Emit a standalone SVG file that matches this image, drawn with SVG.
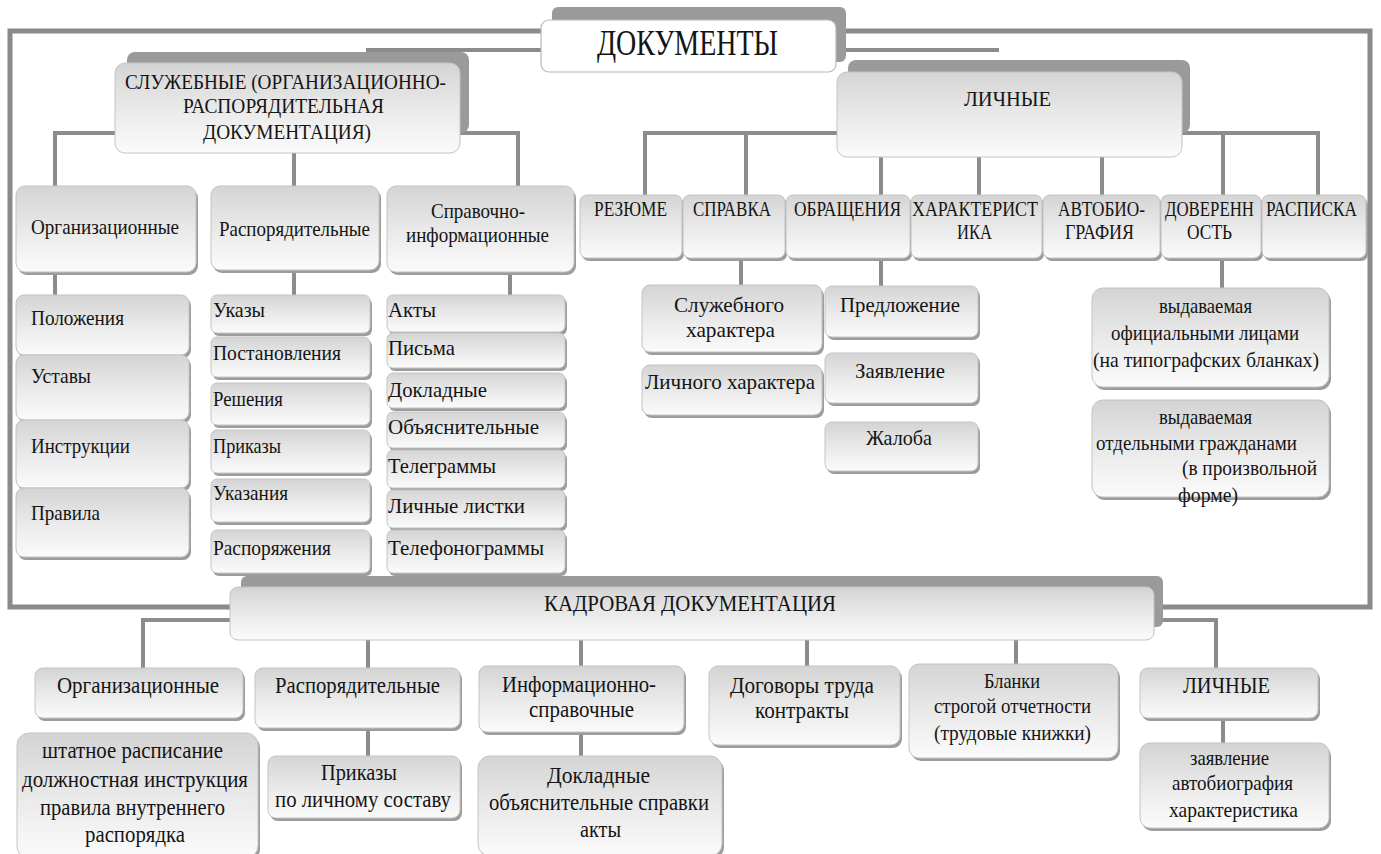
<svg xmlns="http://www.w3.org/2000/svg" width="1381" height="854" viewBox="0 0 1381 854">
<defs>
<linearGradient id="g" x1="0" y1="0" x2="0" y2="1">
<stop offset="0" stop-color="#d4d4d4"/>
<stop offset="0.5" stop-color="#e9e9e9"/>
<stop offset="1" stop-color="#fbfbfb"/>
</linearGradient>
</defs>
<style>
.bx{fill:url(#g);stroke:#c4c4c4;stroke-width:1}
.sh{fill:#9c9c9c}
.tab{fill:#9a9a9a}
.wb{fill:#ffffff;stroke:#b8b8b8;stroke-width:1.2}
.c{fill:none;stroke:#8c8c8c;stroke-width:4}
.f{fill:none;stroke:#8a8a8a;stroke-width:5}
text{font-family:"Liberation Serif","DejaVu Serif",serif;fill:#141414}
.s19{font-size:21px}
.s20{font-size:21px}
.s21{font-size:23px}
.s22{font-size:24px}
.s33{font-size:35px}
</style>
<rect width="1381" height="854" fill="#ffffff"/>

<g id="connectors">
<path class="f" d="M230,607 H10 V31 H1370 V607 H1163"/>
<path class="c" d="M541,50 H366 M836,50 H999"/>
<path class="c" d="M115,133 H55 V186 M460,133 H518 V186 M294,153 V186"/>
<path class="c" d="M55,272 V295 M294,270 V295 M510,272 V295"/>
<path class="c" d="M837,133 H645 V195 M746,133 V195 M1182,133 H1318 V195 M1223,133 V195 M881,157 V195 M979,157 V195 M1102,157 V195"/>
<path class="c" d="M741,258 V285 M881,258 V286 M1222,258 V288"/>
<path class="c" d="M230,620 H143 V668 M1154,620 H1216 V668 M368,640 V668 M581,640 V666 M807,640 V666 M1016,640 V664"/>
<path class="c" d="M368,728 V756 M581,732 V756 M1223,718 V743"/>
</g>

<g id="h-doc">
<rect class="tab" x="552" y="7" width="294" height="55" rx="6"/>
<rect class="wb" x="541" y="20" width="295" height="52" rx="8"/>
<text class="s33" x="597" y="55" textLength="181" lengthAdjust="spacingAndGlyphs">ДОКУМЕНТЫ</text>
</g>

<g id="h-sluzh">
<rect class="tab" x="127" y="52" width="342" height="81" rx="8"/>
<rect class="bx" x="115" y="63" width="345" height="90" rx="10"/>
<text class="s20" x="125" y="89" textLength="321" lengthAdjust="spacingAndGlyphs">СЛУЖЕБНЫЕ (ОРГАНИЗАЦИОННО-</text>
<text class="s20" x="183" y="113" textLength="201" lengthAdjust="spacingAndGlyphs">РАСПОРЯДИТЕЛЬНАЯ</text>
<text class="s20" x="203" y="139" textLength="168" lengthAdjust="spacingAndGlyphs">ДОКУМЕНТАЦИЯ)</text>
</g>

<g id="h-lich">
<rect class="tab" x="848" y="60" width="342" height="73" rx="8"/>
<rect class="bx" x="837" y="72" width="345" height="85" rx="10"/>
<text class="s20" x="964" y="106" textLength="87" lengthAdjust="spacingAndGlyphs">ЛИЧНЫЕ</text>
</g>

<g id="h-kadr">
<rect class="tab" x="241" y="576" width="922" height="51" rx="6"/>
<rect class="bx" x="230" y="587" width="924" height="53" rx="8"/>
<text class="s22" x="544" y="611" textLength="292" lengthAdjust="spacingAndGlyphs">КАДРОВАЯ ДОКУМЕНТАЦИЯ</text>
</g>

<!-- left branch -->
<g id="b-org"><rect class="sh" x="18" y="189" width="180" height="86" rx="9"/><rect class="bx" x="16" y="186" width="180" height="86" rx="9"/>
<text class="s19" x="31" y="234" textLength="148" lengthAdjust="spacingAndGlyphs">Организационные</text></g>
<g id="b-rasp"><rect class="sh" x="213" y="189" width="168" height="84" rx="9"/><rect class="bx" x="211" y="186" width="168" height="84" rx="9"/>
<text class="s19" x="219" y="236" textLength="151" lengthAdjust="spacingAndGlyphs">Распорядительные</text></g>
<g id="b-sprav"><rect class="sh" x="389" y="189" width="187" height="86" rx="9"/><rect class="bx" x="387" y="186" width="187" height="86" rx="9"/>
<text class="s19" x="431" y="218" textLength="94" lengthAdjust="spacingAndGlyphs">Справочно-</text>
<text class="s19" x="406" y="242" textLength="143" lengthAdjust="spacingAndGlyphs">информационные</text></g>

<g id="i-pol"><rect class="sh" x="18" y="298" width="173" height="60" rx="8"/><rect class="bx" x="16" y="295" width="173" height="60" rx="8"/>
<text class="s19" x="31" y="325" textLength="93" lengthAdjust="spacingAndGlyphs">Положения</text></g>
<g id="i-ust"><rect class="sh" x="18" y="358" width="173" height="65" rx="8"/><rect class="bx" x="16" y="355" width="173" height="65" rx="8"/>
<text class="s19" x="31" y="383" textLength="60" lengthAdjust="spacingAndGlyphs">Уставы</text></g>
<g id="i-instr"><rect class="sh" x="18" y="423" width="173" height="68" rx="8"/><rect class="bx" x="16" y="420" width="173" height="68" rx="8"/>
<text class="s19" x="31" y="453" textLength="99" lengthAdjust="spacingAndGlyphs">Инструкции</text></g>
<g id="i-prav"><rect class="sh" x="18" y="491" width="173" height="69" rx="8"/><rect class="bx" x="16" y="488" width="173" height="69" rx="8"/>
<text class="s19" x="31" y="520" textLength="69" lengthAdjust="spacingAndGlyphs">Правила</text></g>

<g id="r-ukazy"><rect class="sh" x="213" y="298" width="159" height="38" rx="6"/><rect class="bx" x="211" y="295" width="159" height="38" rx="6"/>
<text class="s19" x="213" y="317" textLength="52" lengthAdjust="spacingAndGlyphs">Указы</text></g>
<g id="r-post"><rect class="sh" x="213" y="340" width="159" height="40" rx="6"/><rect class="bx" x="211" y="337" width="159" height="40" rx="6"/>
<text class="s19" x="213" y="360" textLength="128" lengthAdjust="spacingAndGlyphs">Постановления</text></g>
<g id="r-resh"><rect class="sh" x="213" y="386" width="159" height="42" rx="6"/><rect class="bx" x="211" y="383" width="159" height="42" rx="6"/>
<text class="s19" x="213" y="406" textLength="70" lengthAdjust="spacingAndGlyphs">Решения</text></g>
<g id="r-prik"><rect class="sh" x="213" y="433" width="159" height="43" rx="6"/><rect class="bx" x="211" y="430" width="159" height="43" rx="6"/>
<text class="s19" x="213" y="453" textLength="68" lengthAdjust="spacingAndGlyphs">Приказы</text></g>
<g id="r-ukaz"><rect class="sh" x="213" y="482" width="159" height="43" rx="6"/><rect class="bx" x="211" y="479" width="159" height="43" rx="6"/>
<text class="s19" x="213" y="500" textLength="75" lengthAdjust="spacingAndGlyphs">Указания</text></g>
<g id="r-rasp"><rect class="sh" x="213" y="533" width="159" height="43" rx="6"/><rect class="bx" x="211" y="530" width="159" height="43" rx="6"/>
<text class="s19" x="213" y="555" textLength="118" lengthAdjust="spacingAndGlyphs">Распоряжения</text></g>

<g id="s-akty"><rect class="sh" x="389" y="298" width="178" height="37" rx="6"/><rect class="bx" x="387" y="295" width="178" height="37" rx="6"/>
<text class="s19" x="388" y="317" textLength="48" lengthAdjust="spacingAndGlyphs">Акты</text></g>
<g id="s-pisma"><rect class="sh" x="389" y="336" width="178" height="35" rx="6"/><rect class="bx" x="387" y="333" width="178" height="35" rx="6"/>
<text class="s19" x="388" y="355" textLength="67" lengthAdjust="spacingAndGlyphs">Письма</text></g>
<g id="s-dokl"><rect class="sh" x="389" y="376" width="178" height="35" rx="6"/><rect class="bx" x="387" y="373" width="178" height="35" rx="6"/>
<text class="s19" x="388" y="397" textLength="99" lengthAdjust="spacingAndGlyphs">Докладные</text></g>
<g id="s-obyas"><rect class="sh" x="389" y="415" width="178" height="36" rx="6"/><rect class="bx" x="387" y="412" width="178" height="36" rx="6"/>
<text class="s19" x="388" y="434" textLength="151" lengthAdjust="spacingAndGlyphs">Объяснительные</text></g>
<g id="s-teleg"><rect class="sh" x="389" y="453" width="178" height="38" rx="6"/><rect class="bx" x="387" y="450" width="178" height="38" rx="6"/>
<text class="s19" x="388" y="473" textLength="108" lengthAdjust="spacingAndGlyphs">Телеграммы</text></g>
<g id="s-lich"><rect class="sh" x="389" y="493" width="178" height="38" rx="6"/><rect class="bx" x="387" y="490" width="178" height="38" rx="6"/>
<text class="s19" x="388" y="513" textLength="137" lengthAdjust="spacingAndGlyphs">Личные листки</text></g>
<g id="s-telef"><rect class="sh" x="389" y="533" width="178" height="43" rx="6"/><rect class="bx" x="387" y="530" width="178" height="43" rx="6"/>
<text class="s19" x="388" y="555" textLength="156" lengthAdjust="spacingAndGlyphs">Телефонограммы</text></g>

<!-- right branch -->
<g id="p-rez"><rect class="sh" x="582" y="198" width="102" height="63" rx="7"/><rect class="bx" x="580" y="195" width="102" height="63" rx="7"/>
<text class="s20" x="594" y="216" textLength="73" lengthAdjust="spacingAndGlyphs">РЕЗЮМЕ</text></g>
<g id="p-sprav"><rect class="sh" x="685" y="198" width="102" height="63" rx="7"/><rect class="bx" x="683" y="195" width="102" height="63" rx="7"/>
<text class="s20" x="693" y="216" textLength="78" lengthAdjust="spacingAndGlyphs">СПРАВКА</text></g>
<g id="p-obr"><rect class="sh" x="788" y="198" width="124" height="63" rx="7"/><rect class="bx" x="786" y="195" width="124" height="63" rx="7"/>
<text class="s20" x="794" y="216" textLength="107" lengthAdjust="spacingAndGlyphs">ОБРАЩЕНИЯ</text></g>
<g id="p-har"><rect class="sh" x="913" y="198" width="131" height="63" rx="7"/><rect class="bx" x="911" y="195" width="131" height="63" rx="7"/>
<text class="s20" x="912" y="216" textLength="126" lengthAdjust="spacingAndGlyphs">ХАРАКТЕРИСТ</text>
<text class="s20" x="957" y="239" textLength="35" lengthAdjust="spacingAndGlyphs">ИКА</text></g>
<g id="p-avt"><rect class="sh" x="1045" y="198" width="117" height="63" rx="7"/><rect class="bx" x="1043" y="195" width="117" height="63" rx="7"/>
<text class="s20" x="1058" y="216" textLength="87" lengthAdjust="spacingAndGlyphs">АВТОБИО-</text>
<text class="s20" x="1065" y="239" textLength="69" lengthAdjust="spacingAndGlyphs">ГРАФИЯ</text></g>
<g id="p-dov"><rect class="sh" x="1163" y="198" width="100" height="63" rx="7"/><rect class="bx" x="1161" y="195" width="100" height="63" rx="7"/>
<text class="s20" x="1165" y="216" textLength="89" lengthAdjust="spacingAndGlyphs">ДОВЕРЕНН</text>
<text class="s20" x="1187" y="239" textLength="45" lengthAdjust="spacingAndGlyphs">ОСТЬ</text></g>
<g id="p-rasp"><rect class="sh" x="1264" y="198" width="104" height="63" rx="7"/><rect class="bx" x="1262" y="195" width="104" height="63" rx="7"/>
<text class="s20" x="1266" y="216" textLength="91" lengthAdjust="spacingAndGlyphs">РАСПИСКА</text></g>

<g id="sp-sluzh"><rect class="sh" x="644" y="288" width="180" height="67" rx="8"/><rect class="bx" x="642" y="285" width="180" height="67" rx="8"/>
<text class="s19" x="674" y="312" textLength="110" lengthAdjust="spacingAndGlyphs">Служебного</text>
<text class="s19" x="686" y="337" textLength="89" lengthAdjust="spacingAndGlyphs">характера</text></g>
<g id="sp-lich"><rect class="sh" x="644" y="368" width="180" height="50" rx="8"/><rect class="bx" x="642" y="365" width="180" height="50" rx="8"/>
<text class="s19" x="645" y="389" textLength="170" lengthAdjust="spacingAndGlyphs">Личного характера</text></g>
<g id="ob-pred"><rect class="sh" x="827" y="289" width="153" height="51" rx="7"/><rect class="bx" x="825" y="286" width="153" height="51" rx="7"/>
<text class="s19" x="840" y="312" textLength="120" lengthAdjust="spacingAndGlyphs">Предложение</text></g>
<g id="ob-zayav"><rect class="sh" x="827" y="356" width="153" height="50" rx="7"/><rect class="bx" x="825" y="353" width="153" height="50" rx="7"/>
<text class="s19" x="855" y="378" textLength="90" lengthAdjust="spacingAndGlyphs">Заявление</text></g>
<g id="ob-zhal"><rect class="sh" x="827" y="425" width="153" height="49" rx="7"/><rect class="bx" x="825" y="422" width="153" height="49" rx="7"/>
<text class="s19" x="866" y="445" textLength="66" lengthAdjust="spacingAndGlyphs">Жалоба</text></g>
<g id="dv-of"><rect class="sh" x="1094" y="291" width="237" height="99" rx="11"/><rect class="bx" x="1092" y="288" width="237" height="99" rx="11"/>
<text class="s19" x="1159" y="313" textLength="93" lengthAdjust="spacingAndGlyphs">выдаваемая</text>
<text class="s19" x="1111" y="340" textLength="188" lengthAdjust="spacingAndGlyphs">официальными лицами</text>
<text class="s19" x="1093" y="367" textLength="226" lengthAdjust="spacingAndGlyphs">(на типографских бланках)</text></g>
<g id="dv-ot"><rect class="sh" x="1094" y="403" width="237" height="97" rx="11"/><rect class="bx" x="1092" y="400" width="237" height="97" rx="11"/>
<text class="s19" x="1159" y="424" textLength="93" lengthAdjust="spacingAndGlyphs">выдаваемая</text>
<text class="s19" x="1096" y="450" textLength="201" lengthAdjust="spacingAndGlyphs">отдельными гражданами</text>
<text class="s19" x="1182" y="475" textLength="135" lengthAdjust="spacingAndGlyphs">(в произвольной</text>
<text class="s19" x="1178" y="502" textLength="60" lengthAdjust="spacingAndGlyphs">форме)</text></g>

<!-- bottom branch -->
<g id="k-org"><rect class="sh" x="37" y="671" width="208" height="50" rx="8"/><rect class="bx" x="35" y="668" width="208" height="50" rx="8"/>
<text class="s21" x="57" y="693" textLength="162" lengthAdjust="spacingAndGlyphs">Организационные</text></g>
<g id="k-rasp"><rect class="sh" x="257" y="671" width="205" height="60" rx="8"/><rect class="bx" x="255" y="668" width="205" height="60" rx="8"/>
<text class="s21" x="275" y="693" textLength="165" lengthAdjust="spacingAndGlyphs">Распорядительные</text></g>
<g id="k-info"><rect class="sh" x="481" y="669" width="205" height="66" rx="8"/><rect class="bx" x="479" y="666" width="205" height="66" rx="8"/>
<text class="s21" x="502" y="692" textLength="154" lengthAdjust="spacingAndGlyphs">Информационно-</text>
<text class="s21" x="529" y="717" textLength="105" lengthAdjust="spacingAndGlyphs">справочные</text></g>
<g id="k-dog"><rect class="sh" x="711" y="669" width="191" height="79" rx="9"/><rect class="bx" x="709" y="666" width="191" height="79" rx="9"/>
<text class="s21" x="730" y="693" textLength="144" lengthAdjust="spacingAndGlyphs">Договоры труда</text>
<text class="s21" x="755" y="718" textLength="94" lengthAdjust="spacingAndGlyphs">контракты</text></g>
<g id="k-blank"><rect class="sh" x="911" y="667" width="209" height="94" rx="10"/><rect class="bx" x="909" y="664" width="209" height="94" rx="10"/>
<text class="s19" x="984" y="688" textLength="56" lengthAdjust="spacingAndGlyphs">Бланки</text>
<text class="s19" x="934" y="713" textLength="157" lengthAdjust="spacingAndGlyphs">строгой отчетности</text>
<text class="s19" x="934" y="740" textLength="157" lengthAdjust="spacingAndGlyphs">(трудовые книжки)</text></g>
<g id="k-lich"><rect class="sh" x="1142" y="671" width="178" height="50" rx="8"/><rect class="bx" x="1140" y="668" width="178" height="50" rx="8"/>
<text class="s21" x="1183" y="693" textLength="87" lengthAdjust="spacingAndGlyphs">ЛИЧНЫЕ</text></g>
<g id="k-shtat"><rect class="sh" x="19" y="736" width="241" height="125" rx="12"/><rect class="bx" x="17" y="733" width="241" height="125" rx="12"/>
<text class="s21" x="42" y="758" textLength="181" lengthAdjust="spacingAndGlyphs">штатное расписание</text>
<text class="s21" x="22" y="787" textLength="226" lengthAdjust="spacingAndGlyphs">должностная инструкция</text>
<text class="s21" x="40" y="815" textLength="185" lengthAdjust="spacingAndGlyphs">правила внутреннего</text>
<text class="s21" x="85" y="842" textLength="100" lengthAdjust="spacingAndGlyphs">распорядка</text></g>
<g id="k-prik"><rect class="sh" x="270" y="759" width="192" height="62" rx="8"/><rect class="bx" x="268" y="756" width="192" height="62" rx="8"/>
<text class="s21" x="321" y="780" textLength="76" lengthAdjust="spacingAndGlyphs">Приказы</text>
<text class="s21" x="275" y="807" textLength="176" lengthAdjust="spacingAndGlyphs">по личному составу</text></g>
<g id="k-dokl"><rect class="sh" x="480" y="759" width="244" height="100" rx="12"/><rect class="bx" x="478" y="756" width="244" height="100" rx="12"/>
<text class="s21" x="547" y="783" textLength="103" lengthAdjust="spacingAndGlyphs">Докладные</text>
<text class="s21" x="489" y="810" textLength="220" lengthAdjust="spacingAndGlyphs">объяснительные справки</text>
<text class="s21" x="580" y="837" textLength="41" lengthAdjust="spacingAndGlyphs">акты</text></g>
<g id="k-zayav"><rect class="sh" x="1142" y="746" width="189" height="85" rx="10"/><rect class="bx" x="1140" y="743" width="189" height="85" rx="10"/>
<text class="s19" x="1190" y="765" textLength="79" lengthAdjust="spacingAndGlyphs">заявление</text>
<text class="s19" x="1172" y="790" textLength="121" lengthAdjust="spacingAndGlyphs">автобиография</text>
<text class="s19" x="1169" y="817" textLength="129" lengthAdjust="spacingAndGlyphs">характеристика</text></g>
</svg>
